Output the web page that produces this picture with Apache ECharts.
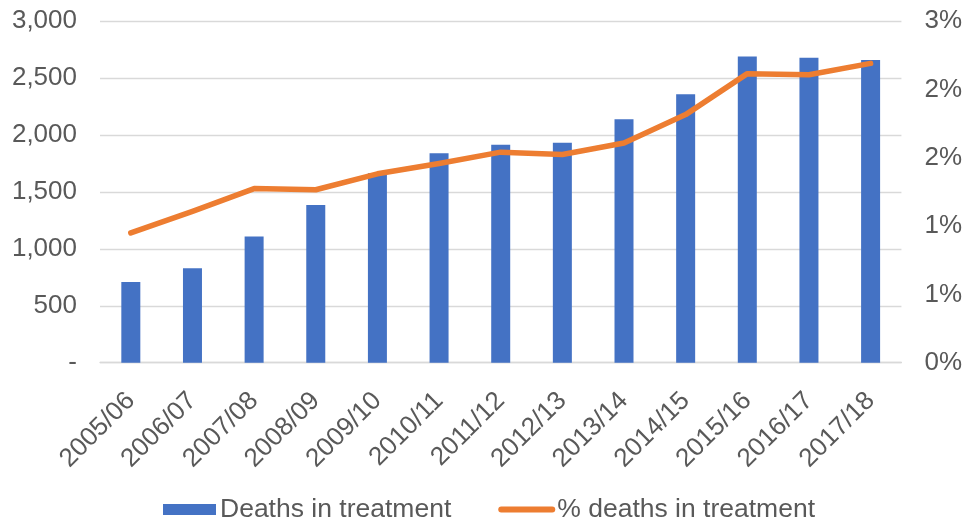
<!DOCTYPE html>
<html>
<head>
<meta charset="utf-8">
<script src="https://cdn.jsdelivr.net/npm/echarts@6/dist/echarts.min.js"></script>
<style>
  html, body { margin: 0; padding: 0; background: #fff; }
  #chart { width: 965px; height: 521px; }
</style>
</head>
<body>
<div id="chart"></div>
<script>
// Financial years
const years = ['2005/06', '2006/07', '2007/08', '2008/09', '2009/10', '2010/11', '2011/12',
  '2012/13', '2013/14', '2014/15', '2015/16', '2016/17', '2017/18'];
// Number of deaths in treatment
const deaths = [710, 830, 1110, 1385, 1665, 1840, 1915, 1933, 2140, 2360, 2690, 2680, 2660];
// Deaths as a percentage of people in treatment
const deathPct = [1.14, 1.33, 1.53, 1.52, 1.66, 1.75, 1.85, 1.83, 1.93, 2.18, 2.54, 2.53, 2.63];

const textColor = '#595959';
const gridColor = '#D9D9D9';
const barColor = '#4472C4';
const lineColor = '#ED7D31';
const font = 'Liberation Sans, Arial, sans-serif';

// Legend swatches: a filled block for the bars, a rounded stroke for the line
const barIcon = 'path://M0,0 L53,0 L53,11 L0,11 Z';
const lineIcon = 'path://M3,2.5 L54,2.5 A3,3 0 0 1 54,8.5 L3,8.5 A3,3 0 0 1 3,2.5 Z M0,0 L0,0 M57,11 L57,11';

const chart = echarts.init(document.getElementById('chart'), null, { renderer: 'canvas' });
chart.setOption({
  animation: false,
  textStyle: { fontFamily: font },
  grid: { left: 100, right: 63, top: 21.3, bottom: 158.3, containLabel: false },
  legend: {
    top: 496,
    left: 163,
    padding: 0,
    itemWidth: 57,
    itemHeight: 11,
    itemGap: 47,
    textStyle: { color: textColor, fontSize: 26.5, fontFamily: font, padding: [0, 0, 0, -3] },
    data: [
      { name: 'Deaths in treatment', icon: barIcon, itemStyle: { color: barColor } },
      { name: '% deaths in treatment', icon: lineIcon, itemStyle: { color: lineColor } }
    ]
  },
  xAxis: {
    type: 'category',
    data: years,
    axisLine: { lineStyle: { color: gridColor, width: 1.3 } },
    axisTick: { show: false },
    axisLabel: { rotate: 45, margin: 34, color: textColor, fontSize: 26, fontFamily: font, interval: 0 }
  },
  yAxis: [
    {
      type: 'value',
      min: 0, max: 3000, interval: 500,
      axisLine: { show: false },
      axisTick: { show: false },
      splitLine: { lineStyle: { color: gridColor, width: 1.3 } },
      axisLabel: {
        margin: 23, color: textColor, fontSize: 26, fontFamily: font,
        formatter: v => v === 0 ? '-' : v.toLocaleString('en-US')
      }
    },
    {
      type: 'value',
      min: 0, max: 3, interval: 0.6,
      axisLine: { show: false },
      axisTick: { show: false },
      splitLine: { show: false },
      axisLabel: {
        margin: 23, color: textColor, fontSize: 26, fontFamily: font,
        formatter: v => Math.round(v) + '%'
      }
    }
  ],
  series: [
    {
      name: 'Deaths in treatment',
      type: 'bar',
      data: deaths,
      barWidth: 19,
      itemStyle: { color: barColor }
    },
    {
      name: '% deaths in treatment',
      type: 'line',
      yAxisIndex: 1,
      data: deathPct,
      symbol: 'none',
      lineStyle: { color: lineColor, width: 5.5, cap: 'round', join: 'round' },
      itemStyle: { color: lineColor }
    }
  ]
});
</script>
</body>
</html>
